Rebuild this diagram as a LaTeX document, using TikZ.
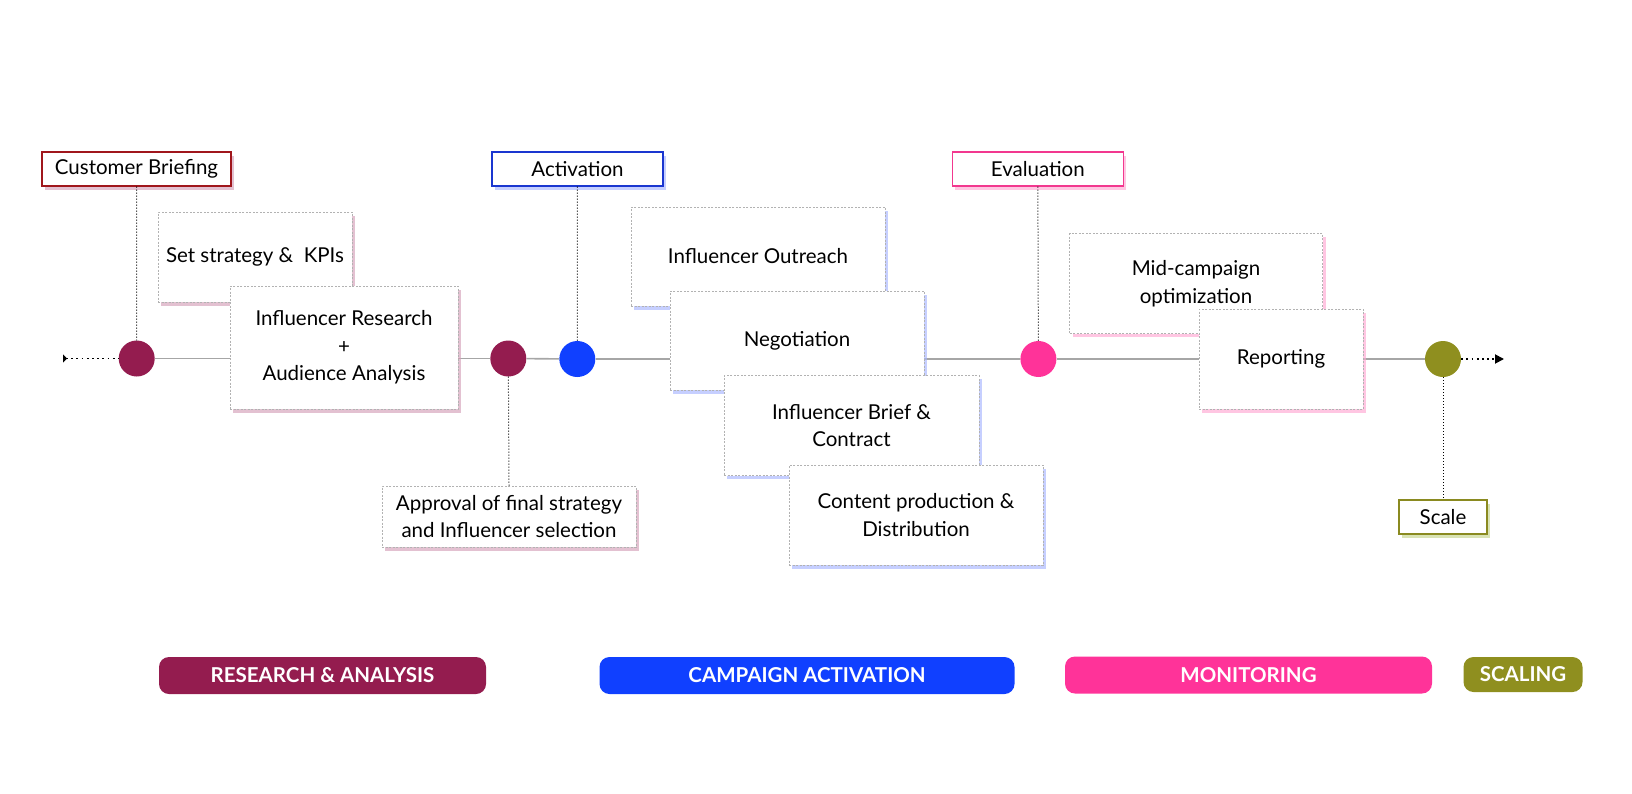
\documentclass[tikz,border=0pt]{standalone}
\usepackage{fontspec}
\setmainfont{Lato}
\usetikzlibrary{shadows,arrows.meta}
\definecolor{cmaroon}{HTML}{941C4F}
\definecolor{cblue}{HTML}{1040FF}
\definecolor{cpink}{HTML}{FF3399}
\definecolor{colive}{HTML}{8F8F1F}
\definecolor{bmaroon}{HTML}{A0161C}
\definecolor{bblue}{HTML}{1A36D0}
\definecolor{bpink}{HTML}{F2388F}
\definecolor{bolive}{HTML}{8A8A20}
\definecolor{shmaroon}{HTML}{D4A0B8}
\definecolor{shblue}{HTML}{A8B6FF}
\definecolor{shpink}{HTML}{FFA8D2}
\definecolor{sholive}{HTML}{C4D48C}
\definecolor{tline}{HTML}{A6A6A6}
\begin{document}
\begin{tikzpicture}[x=1pt,y=-1pt,
  lbl/.style={draw=#1, fill=white, line width=1.1pt, minimum height=34pt, inner sep=0pt,
    font=\fontsize{20.5}{24}\selectfont},
  card/.style={draw=gray!60, dash pattern=on 2pt off 1.5pt, fill=white, line width=0.8pt,
    align=center, inner sep=0pt, font=\fontsize{20.5}{27.5}\selectfont},
  shd/.style={drop shadow={shadow xshift=3pt, shadow yshift=-3.5pt, fill=#1, opacity=0.65}},
  dotnode/.style={circle, fill=#1, minimum size=36pt, inner sep=0pt},
  band/.style={fill=#1, rounded corners=10pt, minimum height=37pt, inner sep=0pt, text=white,
    font=\bfseries\fontsize{20.5}{22}\selectfont},
  vdot/.style={line width=1pt, dash pattern=on 1pt off 2pt},
  tl/.style={draw=tline, line width=1.6pt}]
\useasboundingbox (0,0) rectangle (1632,793);

% timeline circles
\node[dotnode=cmaroon] (c1) at (136.7,358.5) {};
\node[dotnode=cmaroon] (c2) at (508.3,358.5) {};
\node[dotnode=cblue] (c3) at (577.3,359) {};
\node[dotnode=cpink] (c4) at (1038.4,359) {};
\node[dotnode=colive] (c5) at (1443,359) {};

% timeline
\draw[tl] (c1) -- (c2);
\draw[tl] (c2) -- (c3);
\draw[tl] (c3) -- (c4);
\draw[tl] (c4) -- (c5);

% left and right dotted arrows
\coordinate (ls) at (63,358.5);
\coordinate (re) at (1504,359);
\draw[line width=1.8pt, dash pattern=on 1.8pt off 3.4pt, {Triangle[reversed,length=4pt,width=8pt]}-] (ls) -- (c1);
\draw[line width=1.8pt, dash pattern=on 1.8pt off 3.4pt, -{Triangle[length=9pt,width=9pt]}] (c5) -- (re);

% stage labels
\node[lbl=bmaroon, shd=shmaroon, minimum width=189pt] (cb) at (136.5,169) {Customer Briefing};
\node[lbl=bblue, shd=shblue, minimum width=171pt] (act) at (577.5,169) {Activation};
\node[lbl=bpink, shd=shpink, minimum width=171pt] (eval) at (1037.8,169) {Evaluation};
\node[lbl=bolive, shd=sholive, minimum width=88pt] (scale) at (1443,517) {Scale};

\draw[vdot] (cb) -- (c1);
\draw[vdot] (act) -- (c3);
\draw[vdot] (eval) -- (c4);
\draw[vdot] (c5) -- (scale);
\draw[vdot] (c2) -- (509,486);

% research cards
\node[card, shd=shmaroon, minimum width=194pt, minimum height=90pt] (strat) at (255,257) {Set strategy \&~ KPIs};
\node[card, shd=shmaroon, minimum width=228pt, minimum height=123pt] (infres) at (344,347.5) {Influencer Research\\+\\Audience Analysis};
\node[card, shd=shmaroon, minimum width=254pt, minimum height=61pt] (appr) at (509,516.5) {Approval of final strategy\\and Influencer selection};

% activation cards
\node[card, shd=shblue, minimum width=254pt, minimum height=99pt] (outr) at (758,256.5) {Influencer Outreach};
\node[card, shd=shblue, minimum width=254pt, minimum height=99pt] (nego) at (797,340.5) {Negotiation};
\node[card, shd=shblue, minimum width=255pt, minimum height=100pt] (brief) at (851.5,425.5) {Influencer Brief \&\\Contract};
\node[card, shd=shblue, minimum width=254pt, minimum height=100pt] (cont) at (916,515) {Content production \&\\Distribution};

% monitoring cards
\node[card, shd=shpink, minimum width=253pt, minimum height=100pt] (mid) at (1196,283.5) {Mid-campaign\\optimization};
\node[card, shd=shpink, minimum width=164pt, minimum height=100pt] (rep) at (1281,359) {Reporting};

% bands
\node[band=cmaroon, minimum width=327pt] (b1) at (322.5,675.5) {RESEARCH \& ANALYSIS};
\node[band=cblue, minimum width=415pt] (b2) at (807,675.5) {CAMPAIGN ACTIVATION};
\node[band=cpink, minimum width=367pt] (b3) at (1248.5,675) {MONITORING};
\node[band=colive, minimum width=119pt, minimum height=35pt] (b4) at (1523,674.5) {SCALING};
\end{tikzpicture}
\end{document}
